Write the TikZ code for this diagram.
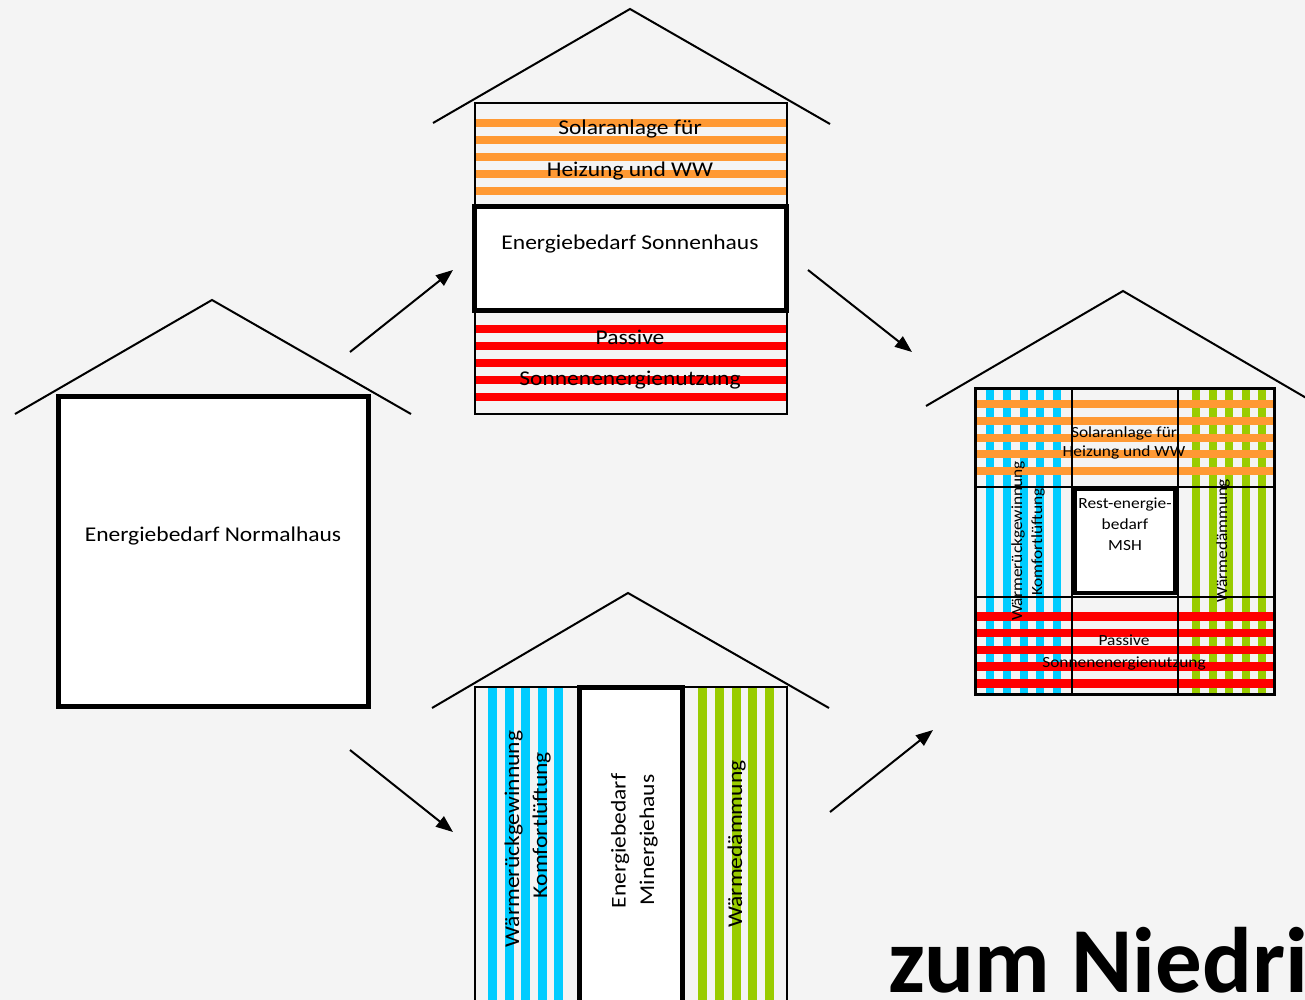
\documentclass[tikz,border=0pt]{standalone}
\usepackage{fontspec}
\setmainfont{Carlito}[FakeStretch=1.12]
\newfontfamily\titlefont{Carlito}
\usetikzlibrary{arrows.meta}
\definecolor{bg}{HTML}{F4F4F4}
\definecolor{sorange}{HTML}{FF9933}
\definecolor{sred}{HTML}{FF0000}
\definecolor{sblue}{HTML}{00CCFF}
\definecolor{sgreen}{HTML}{99CC00}
\tikzset{
  roof/.style={line width=2pt,line join=miter},
  thinbox/.style={draw=black,line width=2pt},
  thickbox/.style={draw=black,fill=white,line width=5pt},
  gridline/.style={draw=black,line width=1.5pt},
  bigtxt/.style={font=\fontsize{21}{25}\selectfont,inner sep=0pt,anchor=base},
  smalltxt/.style={font=\fontsize{15.5}{18}\selectfont,inner sep=0pt,anchor=base},
  flow/.style={line width=2pt,-{Triangle[length=17pt,width=13pt]}},
}
\begin{document}
\begin{tikzpicture}[x=1pt,y=-1pt]
\useasboundingbox[fill=bg] (0,0) rectangle (1305,1000);

% ---------- left house: Normalhaus ----------
\draw[roof] (15,414) -- (212,300) -- (411,414);
\node[thickbox,minimum width=310pt,minimum height=310pt,inner sep=0pt] (normal) at (213.5,551.5) {};
\node[bigtxt] (normaltxt) at (213,541) {Energiebedarf Normalhaus};

% ---------- top house: Sonnenhaus ----------
\draw[roof] (433,123) -- (630,9) -- (830,124);
\foreach \i in {0,...,4} {
  \fill[sorange] (475,119+17*\i) rectangle (787,127+17*\i);
  \fill[sred] (475,325+17*\i) rectangle (787,333+17*\i);
}
\draw[thinbox] (475,103) rectangle (787,414);
\node[thickbox,minimum width=312pt,minimum height=104pt,inner sep=0pt] (sonne) at (630.5,258.5) {};
\node[bigtxt] (sonnetxt) at (630,250) {Energiebedarf Sonnenhaus};
\node[bigtxt] (sol1) at (630,135) {Solaranlage für};
\node[bigtxt] (sol2) at (630,177) {Heizung und WW};
\node[bigtxt] (pas1) at (630,344) {Passive};
\node[bigtxt] (pas2) at (630,385) {Sonnenenergienutzung};

% ---------- bottom house: Minergiehaus ----------
\draw[roof] (432,708) -- (628,593) -- (829,708);
\foreach \i in {0,...,4} {
  \fill[sblue] (488+16.6*\i,687) rectangle (497+16.6*\i,1005);
  \fill[sgreen] (698+16.75*\i,687) rectangle (707+16.75*\i,1005);
}
\draw[thinbox] (475,1010) -- (475,687) -- (787,687) -- (787,1010);
\draw[thickbox] (579.5,1010) -- (579.5,687.5) -- (682.5,687.5) -- (682.5,1010);
\node[bigtxt,rotate=90] (wrg1) at (519,839) {Wärmerückgewinnung};
\node[bigtxt,rotate=90] (wrg2) at (547,825) {Komfortlüftung};
\node[bigtxt,rotate=90] (mh1) at (625.5,841) {Energiebedarf};
\node[bigtxt,rotate=90] (mh2) at (654,840) {Minergiehaus};
\node[bigtxt,rotate=90] (wd1) at (742,844) {Wärmedämmung};

% ---------- right house: combined ----------
\draw[roof] (926,406) -- (1123,291) -- (1320,406);
\foreach \i in {0,...,4} {
  \fill[sblue] (986+16.75*\i,388) rectangle (994+16.75*\i,695);
  \fill[sgreen] (1192+16.6*\i,388) rectangle (1200+16.6*\i,695);
}
\foreach \i in {0,...,4} {
  \fill[sorange] (975,400+16.75*\i) rectangle (1275,408+16.75*\i);
  \fill[sred] (975,612+16.75*\i) rectangle (1275,620.5+16.75*\i);
}
\draw[gridline] (1072,388) -- (1072,695);
\draw[gridline] (1178,388) -- (1178,695);
\draw[gridline] (975,487) -- (1275,487);
\draw[gridline] (975,597) -- (1275,597);
\draw[line width=3pt] (975.5,388.5) rectangle (1274.5,694.5);
\node[draw=black,fill=white,line width=4pt,minimum width=100pt,minimum height=104pt,inner sep=0pt] (msh) at (1125,541) {};
\node[smalltxt] (r1) at (1125,508) {Rest-energie-};
\node[smalltxt] (r2) at (1125,529) {bedarf};
\node[smalltxt] (r3) at (1125,550) {MSH};
\node[smalltxt] (rs1) at (1124,437) {Solaranlage für};
\node[smalltxt] (rs2) at (1124,456) {Heizung und WW};
\node[smalltxt] (rp1) at (1124,645) {Passive};
\node[smalltxt] (rp2) at (1124,667) {Sonnenenergienutzung};
\node[smalltxt,rotate=90] (rw1) at (1022,541) {Wärmerückgewinnung};
\node[smalltxt,rotate=90] (rw2) at (1042,542) {Komfortlüftung};
\node[smalltxt,rotate=90] (rw3) at (1227,541) {Wärmedämmung};

% ---------- arrows ----------
\coordinate (a1s) at (350,352); \coordinate (a1e) at (453,270);
\coordinate (a2s) at (808,270); \coordinate (a2e) at (912,352);
\coordinate (a3s) at (350,750); \coordinate (a3e) at (453,832);
\coordinate (a4s) at (830,812); \coordinate (a4e) at (933,730);
\draw[flow] (a1s) -- (a1e);
\draw[flow] (a2s) -- (a2e);
\draw[flow] (a3s) -- (a3e);
\draw[flow] (a4s) -- (a4e);

% ---------- title fragment ----------
\node[font=\fontsize{93}{100}\selectfont\titlefont\bfseries,inner sep=0pt,anchor=base west] (title) at (888,992) {zum Niedri};
\end{tikzpicture}
\end{document}
